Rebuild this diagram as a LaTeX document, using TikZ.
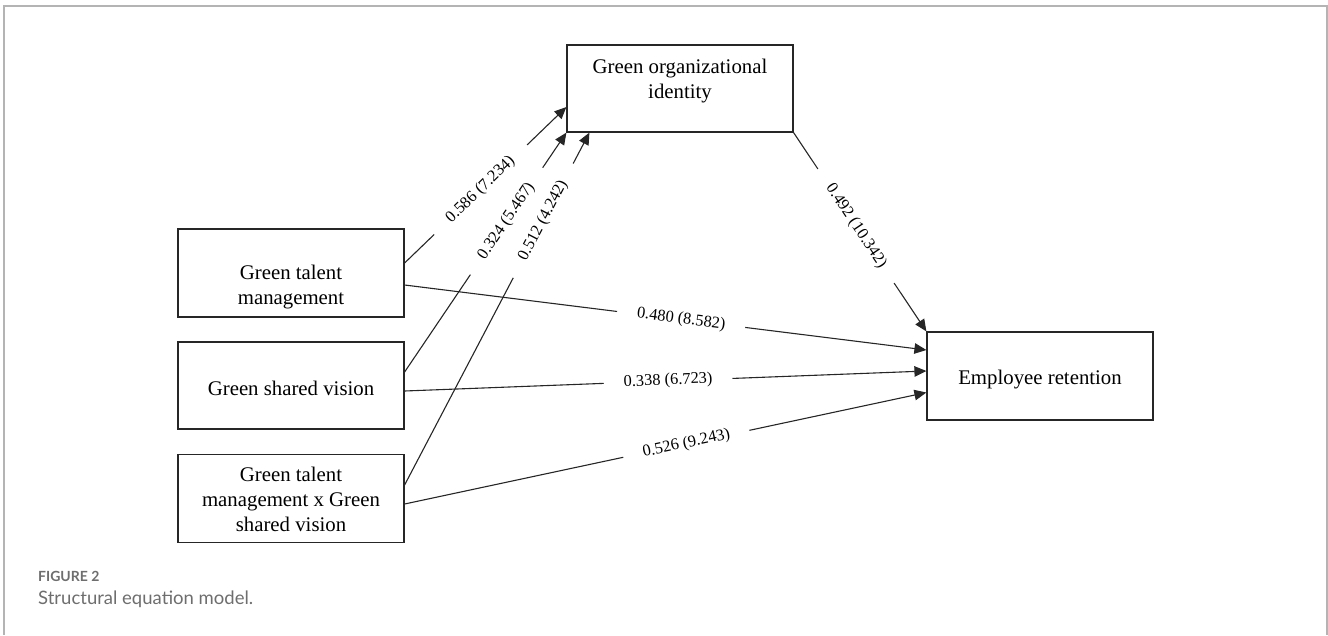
\documentclass[tikz,border=0pt]{standalone}
\usepackage{fontspec}
\setmainfont{Liberation Serif}
\newfontfamily\capfont{Lato}
\usetikzlibrary{arrows.meta}
\definecolor{framegray}{HTML}{B4B4B4}
\definecolor{capgray}{HTML}{6E6E6E}
\definecolor{linecol}{HTML}{262626}
\tikzset{
  box/.style={draw=linecol, line width=1.2pt, minimum width=226pt, minimum height=88pt, inner sep=0pt},
  boxtext/.style={align=center, inner sep=0pt, font=\fontsize{20.8}{25}\selectfont},
  conn/.style={draw=linecol, line width=1.1pt, -{Triangle[length=12pt,width=10.5pt]}},
  coef/.style={fill=white, sloped, inner xsep=20pt, inner ysep=1pt, font=\fontsize{16.4}{18}\selectfont},
}
\begin{document}
\begin{tikzpicture}[x=1pt,y=-1pt]
\useasboundingbox (0,0) rectangle (1328,635);
% frame
\draw[framegray, line width=1.4pt] (4,635) -- (4,6) -- (1327,6) -- (1327,635);
% boxes
\node[box, minimum height=87pt] (goi) at (680,88.5) {};
\node[boxtext] (goitxt) at (680,81) {Green organizational\\identity};
\node[box] (gtm) at (291,273) {};
\node[boxtext] (gtmtxt) at (291,287) {Green talent\\management};
\node[box, minimum height=87pt] (gsv) at (291,385.5) {};
\node[boxtext] (gsvtxt) at (291,388) {Green shared vision};
\node[box] (int) at (291,498.5) {};
\node[boxtext] (inttxt) at (291,499) {Green talent\\management x Green\\shared vision};
\node[box] (er) at (1040,376) {};
\node[boxtext] (ertxt) at (1040,380) {Employee retention};
% connectors to GOI
\draw[conn] ([yshift=10pt]gtm.east) -- node[coef, pos=0.47] {0.586 (7.234)} ([yshift=-18.5pt]goi.west);
\draw[conn] ([yshift=13.5pt]gsv.east) -- node[coef, pos=0.63] {0.324 (5.467)} (goi.south west);
\draw[conn] ([yshift=13.5pt]int.east) -- node[coef, pos=0.75] {0.512 (4.242)} ([xshift=23pt]goi.south west);
% GOI to ER
\draw[conn] (goi.south east) -- node[coef, pos=0.47] {0.492 (10.342)} (er.north west);
% direct paths
\draw[conn] ([yshift=-12pt]gtm.east) -- node[coef, pos=0.53] {0.480 (8.582)} ([yshift=26pt]er.west);
\draw[conn] ([yshift=-5.5pt]gsv.east) -- node[coef, pos=0.505] {0.338 (6.723)} ([yshift=5pt]er.west);
\draw[conn] ([yshift=-5.5pt]int.east) -- node[coef, pos=0.54] {0.526 (9.243)} ([yshift=-16.5pt]er.west);
% caption
\node[anchor=base west, inner sep=0pt, text=capgray, font=\capfont\bfseries\fontsize{14}{16}\selectfont] (figlabel) at (38,581) {FIGURE 2};
\node[anchor=base west, inner sep=0pt, text=capgray, font=\capfont\fontsize{18.5}{20}\selectfont] (figcap) at (38,604) {Structural equation model.};
\end{tikzpicture}
\end{document}
